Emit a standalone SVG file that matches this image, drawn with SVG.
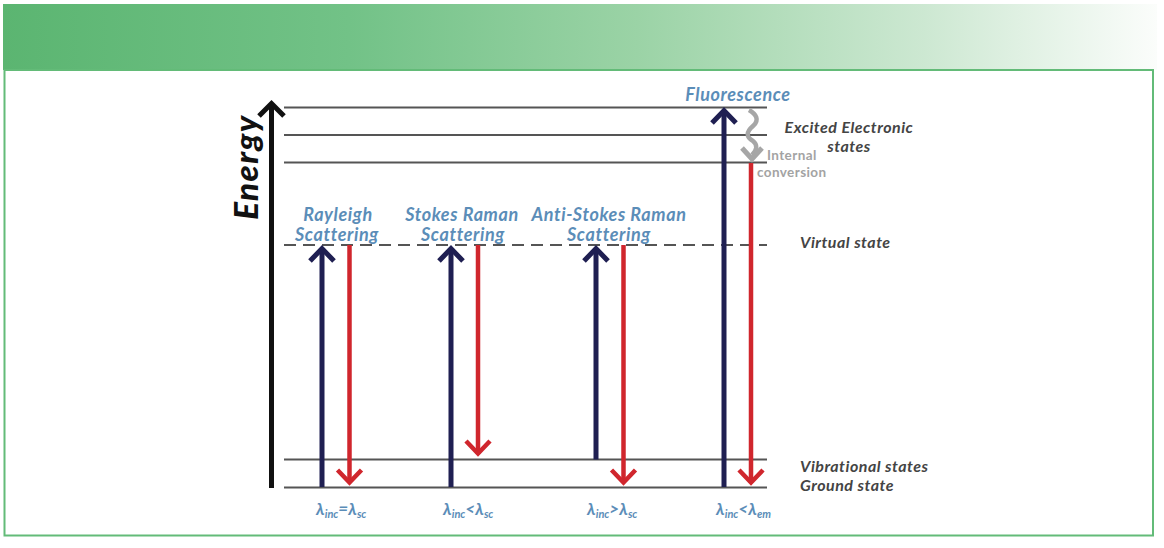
<svg xmlns="http://www.w3.org/2000/svg" width="1164" height="548" viewBox="0 0 1164 548">
<defs>
<linearGradient id="hdr" x1="0" y1="0" x2="1" y2="0">
<stop offset="0" stop-color="#5bb571"/>
<stop offset="0.3" stop-color="#72c287"/>
<stop offset="0.55" stop-color="#9bd3a6"/>
<stop offset="0.8" stop-color="#cde8d2"/>
<stop offset="1" stop-color="#fbfdfb"/>
</linearGradient>
<style>
.lvl{stroke:#555;stroke-width:2;fill:none}
.blue{stroke:#1f1f52;stroke-width:5;fill:none}
.red{stroke:#d0262d;stroke-width:4.5;fill:none}
.lab{font-family:Lato,"Liberation Sans",sans-serif;font-weight:bold;font-style:italic;fill:#5b8db8;font-size:18px;letter-spacing:0.6px;text-anchor:middle}
.rt{font-family:Lato,"Liberation Sans",sans-serif;font-weight:bold;font-style:italic;fill:#444;font-size:16px;letter-spacing:0.5px}
.lam{font-family:Lato,"Liberation Sans",sans-serif;font-weight:bold;font-style:italic;fill:#5b8db8;font-size:17px}
.sub{font-size:11px}
.ic{font-family:Lato,"Liberation Sans",sans-serif;font-weight:bold;font-size:13.5px;letter-spacing:0.4px;fill:#a3a3a3}
</style>
</defs>
<rect x="3" y="4" width="1154" height="66" fill="url(#hdr)"/>
<rect x="4.5" y="70" width="1148.5" height="465.5" fill="#fff" stroke="#63bb78" stroke-width="2"/>

<g id="axis">
<line x1="271.5" y1="488" x2="271.5" y2="104" stroke="#111" stroke-width="5"/>
<polyline points="259,116 271.5,103.5 284,116" fill="none" stroke="#111" stroke-width="5"/>
<text transform="translate(258,167) rotate(-90)" font-family="Lato,'Liberation Sans',sans-serif" font-weight="900" font-style="italic" font-size="33" letter-spacing="1.5" text-anchor="middle" fill="#111">Energy</text>
</g>

<g id="levels">
<line class="lvl" x1="284" y1="107.5" x2="767" y2="107.5"/>
<line class="lvl" x1="284" y1="135" x2="767" y2="135"/>
<line class="lvl" x1="284" y1="162.5" x2="767" y2="162.5"/>
<line class="lvl" x1="284" y1="245" x2="767" y2="245" stroke-dasharray="12,7"/>
<line class="lvl" x1="284" y1="459.5" x2="767" y2="459.5"/>
<line class="lvl" x1="284" y1="487.5" x2="767" y2="487.5"/>
</g>

<g id="connectors">
<line class="blue" x1="322" y1="487" x2="322" y2="248"/>
<polyline class="blue" points="310,261 322,248.5 334,261"/>
<line class="red" x1="349.5" y1="245" x2="349.5" y2="483"/>
<polyline class="red" points="337.5,470 349.5,482.5 361.5,470"/>
<line class="blue" x1="451" y1="487" x2="451" y2="248"/>
<polyline class="blue" points="439,261 451,248.5 463,261"/>
<line class="red" x1="478" y1="245" x2="478" y2="454"/>
<polyline class="red" points="466,441 478,453.5 490,441"/>
<line class="blue" x1="596" y1="459.5" x2="596" y2="248"/>
<polyline class="blue" points="584,261 596,248.5 608,261"/>
<line class="red" x1="623.5" y1="245" x2="623.5" y2="483"/>
<polyline class="red" points="611.5,470 623.5,482.5 635.5,470"/>
<line class="blue" x1="724" y1="487" x2="724" y2="111"/>
<polyline class="blue" points="712,123 724,110.5 736,123"/>
<line class="red" x1="751" y1="163" x2="751" y2="483"/>
<polyline class="red" points="739,470 751,482.5 763,470"/>
<path d="M749,110 C756,114 760,120 753,126 C746,132 746,137 753,141 C758,145 757,150 752,155" fill="none" stroke="#a6a6a6" stroke-width="4.5"/>
<polyline points="742,148 752,159 762,148" fill="none" stroke="#a6a6a6" stroke-width="5"/>
</g>

<g id="labels">
<text class="lab" x="338" y="221">Rayleigh</text>
<text class="lab" x="337" y="241">Scattering</text>
<text class="lab" x="462" y="221">Stokes Raman</text>
<text class="lab" x="463" y="241">Scattering</text>
<text class="lab" x="609" y="221">Anti-Stokes Raman</text>
<text class="lab" x="609" y="241">Scattering</text>
<text class="lab" x="738" y="101">Fluorescence</text>
<text class="rt" x="849" y="133" text-anchor="middle">Excited Electronic</text>
<text class="rt" x="849" y="152" text-anchor="middle">states</text>
<text class="rt" x="800" y="248">Virtual state</text>
<text class="rt" x="800" y="472">Vibrational states</text>
<text class="rt" x="800" y="491">Ground state</text>
<text class="ic" x="767" y="160">Internal</text>
<text class="ic" x="757" y="177">conversion</text>
</g>

<g id="lambdas">
<text class="lam" x="316" y="515">λ<tspan class="sub" dy="3">inc</tspan><tspan dy="-3">=λ</tspan><tspan class="sub" dy="3">sc</tspan></text>
<text class="lam" x="443" y="515">λ<tspan class="sub" dy="3">inc</tspan><tspan dy="-3">&lt;λ</tspan><tspan class="sub" dy="3">sc</tspan></text>
<text class="lam" x="587" y="515">λ<tspan class="sub" dy="3">inc</tspan><tspan dy="-3">&gt;λ</tspan><tspan class="sub" dy="3">sc</tspan></text>
<text class="lam" x="716" y="515">λ<tspan class="sub" dy="3">inc</tspan><tspan dy="-3">&lt;λ</tspan><tspan class="sub" dy="3">em</tspan></text>
</g>
</svg>
